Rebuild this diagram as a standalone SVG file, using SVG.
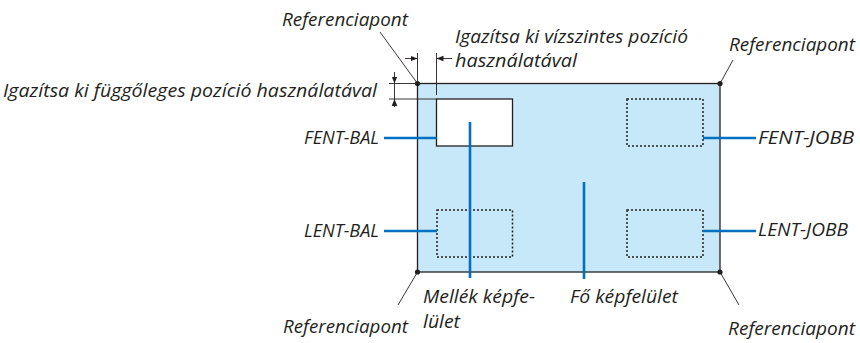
<svg xmlns="http://www.w3.org/2000/svg" width="860" height="343" viewBox="0 0 860 343">
<style>
text{font-family:"Open Sans","Noto Sans","Liberation Sans",sans-serif;font-style:italic;font-size:19px;fill:#231f20}
.frame{stroke:#231f20;stroke-width:1.3}
.dot{fill:#231f20}
.dotted{fill:none;stroke:#231f20;stroke-width:1.5;stroke-dasharray:2 2}
.blue{stroke:#0070c0;stroke-width:2.6;fill:none}
.thin{stroke:#231f20;stroke-width:0.9;fill:none}
</style>
<defs>
<marker id="ah" viewBox="0 0 10 10" refX="10" refY="5" markerWidth="7" markerHeight="7" markerUnits="userSpaceOnUse" orient="auto">
<path d="M0,1 L10,5 L0,9 Z" fill="#231f20"/>
</marker>
</defs>
<g id="main-screen">
<rect x="417.5" y="83.5" width="302.5" height="188.5" fill="#c6e8f8" class="frame"/>
<circle class="dot" cx="417.5" cy="83.5" r="2.6"/>
<circle class="dot" cx="720" cy="83.5" r="2.6"/>
<circle class="dot" cx="417.5" cy="272" r="2.6"/>
<circle class="dot" cx="720" cy="272" r="2.6"/>
</g>
<g id="sub-window">
<rect x="436.5" y="99" width="76" height="47" fill="#ffffff" class="frame"/>
</g>
<g id="pos-fent-jobb"><rect class="dotted" x="627" y="99" width="76" height="47"/></g>
<g id="pos-lent-bal"><rect class="dotted" x="437" y="210" width="75.5" height="47"/></g>
<g id="pos-lent-jobb"><rect class="dotted" x="627" y="210" width="76" height="47"/></g>
<g id="connectors">
<line class="blue" x1="384" y1="138" x2="436.5" y2="138"/>
<line class="blue" x1="384" y1="231" x2="437" y2="231"/>
<line class="blue" x1="703" y1="138" x2="756" y2="138"/>
<line class="blue" x1="703" y1="231" x2="756" y2="231"/>
<line class="blue" x1="470" y1="122" x2="470" y2="278"/>
<line class="blue" x1="584" y1="182" x2="584" y2="279"/>
<line class="thin" x1="380" y1="32" x2="417.5" y2="83.5"/>
<line class="thin" x1="733" y1="60" x2="720" y2="83.5"/>
<line class="thin" x1="417.5" y1="272" x2="398" y2="305"/>
<line class="thin" x1="720" y1="272" x2="739" y2="305"/>
<line class="thin" x1="389" y1="83.5" x2="417.5" y2="83.5"/>
<line class="thin" x1="389" y1="99" x2="436.5" y2="99"/>
<line class="thin" x1="394.5" y1="72" x2="394.5" y2="83.5" marker-end="url(#ah)"/>
<line class="thin" x1="394.5" y1="83.5" x2="394.5" y2="99"/>
<line class="thin" x1="394.5" y1="107" x2="394.5" y2="99" marker-end="url(#ah)"/>
<line class="thin" x1="417.5" y1="53" x2="417.5" y2="83.5"/>
<line class="thin" x1="436.5" y1="53" x2="436.5" y2="95"/>
<line class="thin" x1="405" y1="58.5" x2="417.5" y2="58.5" marker-end="url(#ah)"/>
<line class="thin" x1="452" y1="58.5" x2="436.5" y2="58.5" marker-end="url(#ah)"/>
</g>
<g id="labels">
<text x="282" y="26" textLength="126" lengthAdjust="spacingAndGlyphs">Referenciapont</text>
<text x="729" y="51" textLength="126" lengthAdjust="spacingAndGlyphs">Referenciapont</text>
<text x="283" y="333" textLength="125" lengthAdjust="spacingAndGlyphs">Referenciapont</text>
<text x="728" y="335" textLength="127" lengthAdjust="spacingAndGlyphs">Referenciapont</text>
<text x="3" y="97" textLength="374" lengthAdjust="spacingAndGlyphs">Igazítsa ki függőleges pozíció használatával</text>
<text x="455" y="43" textLength="233" lengthAdjust="spacingAndGlyphs">Igazítsa ki vízszintes pozíció</text>
<text x="455" y="67" textLength="122" lengthAdjust="spacingAndGlyphs">használatával</text>
<text x="304" y="144" textLength="75" lengthAdjust="spacingAndGlyphs">FENT-BAL</text>
<text x="304" y="237" textLength="75" lengthAdjust="spacingAndGlyphs">LENT-BAL</text>
<text x="758" y="144" textLength="96" lengthAdjust="spacingAndGlyphs">FENT-JOBB</text>
<text x="758" y="236" textLength="90" lengthAdjust="spacingAndGlyphs">LENT-JOBB</text>
<text x="423" y="303" textLength="112" lengthAdjust="spacingAndGlyphs">Mellék képfe-</text>
<text x="423" y="328" textLength="37" lengthAdjust="spacingAndGlyphs">lület</text>
<text x="570" y="303" textLength="108" lengthAdjust="spacingAndGlyphs">Fő képfelület</text>
</g>
</svg>
